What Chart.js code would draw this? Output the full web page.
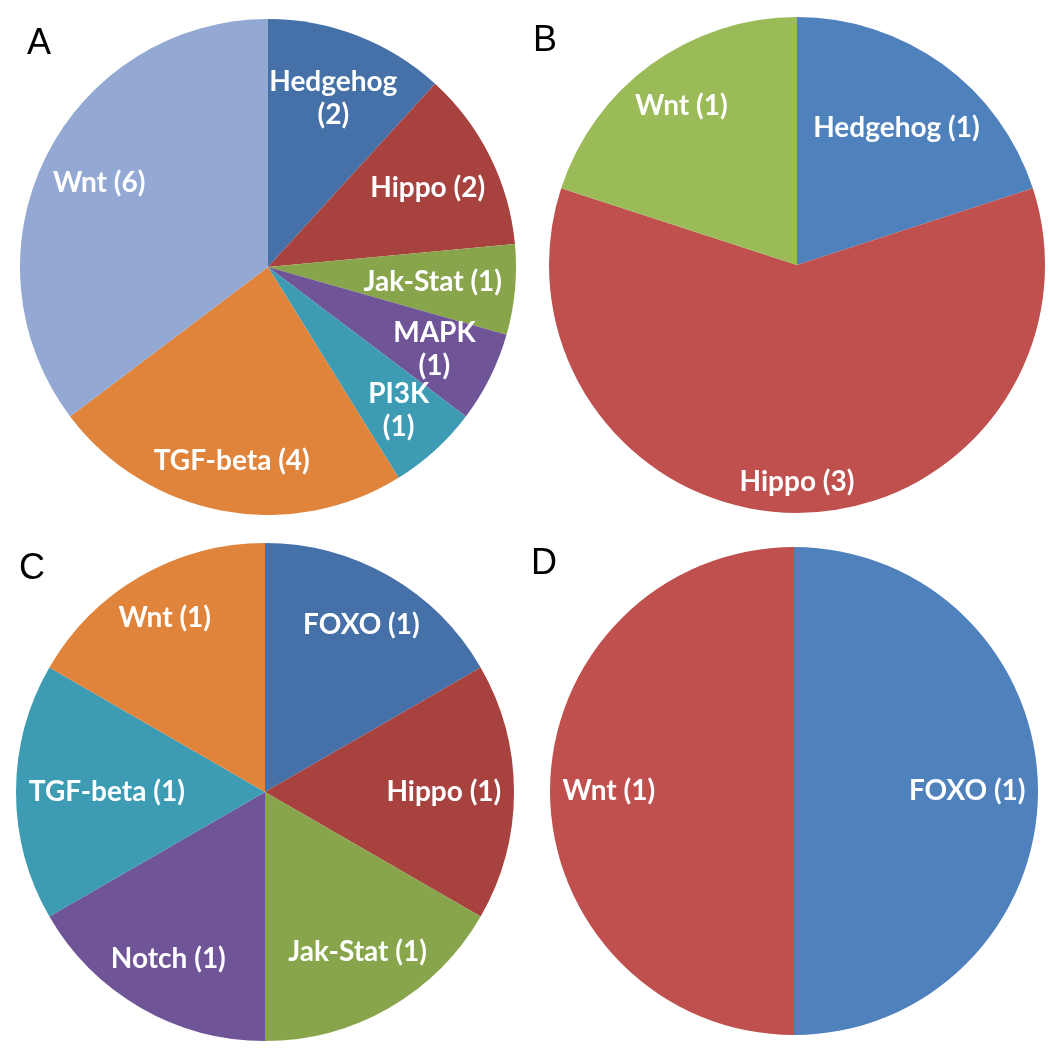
<!DOCTYPE html>
<html>
<head>
<meta charset="utf-8">
<script src="https://cdn.jsdelivr.net/npm/chart.js@4/dist/chart.umd.min.js"></script>
<style>
  html, body { margin: 0; padding: 0; background: #fff; }
  #page { position: relative; width: 1050px; height: 1050px; overflow: hidden; }
  .pie { position: absolute; }
  .letter {
    position: absolute;
    font-family: 'Liberation Sans', Arial, sans-serif;
    font-size: 36px;
    line-height: 36px;
    color: #000;
  }
</style>
</head>
<body>
<div id="page">
  <div class="pie" id="wrapA" style="left:20px;top:19px;width:496px;height:496px"><canvas id="pieA"></canvas></div>
  <div class="pie" id="wrapB" style="left:549px;top:17px;width:496px;height:496px"><canvas id="pieB"></canvas></div>
  <div class="pie" id="wrapC" style="left:16px;top:543px;width:498px;height:498px"><canvas id="pieC"></canvas></div>
  <div class="pie" id="wrapD" style="left:550px;top:547px;width:488px;height:488px"><canvas id="pieD"></canvas></div>
  <div class="letter" style="left:27px;top:24px">A</div>
  <div class="letter" style="left:533px;top:21px">B</div>
  <div class="letter" style="left:19px;top:549px">C</div>
  <div class="letter" style="left:531px;top:544px">D</div>
</div>
<script>
// panel A
const catsA = ['Hedgehog', 'Hippo', 'Jak-Stat', 'MAPK', 'PI3K', 'TGF-beta', 'Wnt']
const valsA = [2, 2, 1, 1, 1, 4, 6]
// these labels break onto two lines in panel A
const wrapA = ['Hedgehog', 'MAPK', 'PI3K']

// panel B
const catsB = ['Hedgehog', 'Hippo', 'Wnt']
const valsB = [1, 3, 1]

// panel C
const catsC = ['FOXO', 'Hippo', 'Jak-Stat', 'Notch', 'TGF-beta', 'Wnt']
const valsC = [1, 1, 1, 1, 1, 1]

// panel D
const catsD = ['FOXO', 'Wnt']
const valsD = [1, 1]

// office-style palettes (the darker one is used in A and C)
const darkPalette = ['#4571A8', '#A8423F', '#88A54C', '#6F5597', '#3D9BB4', '#E0843C', '#93A9D3']
const lightPalette = ['#4F81BD', '#C0504D', '#9BBB59']

const LABEL_FONT = 'bold 28px Lato, "Open Sans", sans-serif'
const LINE_H = 33
const FIT = 0.95

// puts each slice label on the mid angle, pushed out until its box touches FIT * radius
const sliceLabels = {
  id: 'sliceLabels',
  afterDatasetsDraw (chart, args, opts) {
    const ctx = chart.ctx
    const meta = chart.getDatasetMeta(0)
    const values = chart.data.datasets[0].data
    const wrap = opts.wrap || []

    ctx.save()
    ctx.font = LABEL_FONT
    ctx.fillStyle = '#fff'
    ctx.textAlign = 'center'
    ctx.textBaseline = 'middle'

    meta.data.forEach((arc, i) => {
      const { x, y, startAngle, endAngle, outerRadius } = arc.getProps(['x', 'y', 'startAngle', 'endAngle', 'outerRadius'], true)
      const name = chart.data.labels[i]
      const lines = wrap.includes(name)
        ? [name, `(${values[i]})`]
        : [`${name} (${values[i]})`]

      const hw = Math.max(...lines.map(l => ctx.measureText(l).width)) / 2
      const hh = ((lines.length - 1) * LINE_H + 24) / 2

      const mid = (startAngle + endAngle) / 2
      const ux = Math.cos(mid)
      const uy = Math.sin(mid)
      const kr = FIT * outerRadius
      const b = Math.abs(ux) * hw + Math.abs(uy) * hh
      const c = hw * hw + hh * hh - kr * kr
      const d = -b + Math.sqrt(b * b - c)

      const cx = x + ux * d
      const cy = y + uy * d
      lines.forEach((line, j) => {
        ctx.fillText(line, cx, cy - (lines.length - 1) * LINE_H / 2 + j * LINE_H)
      })
    })
    ctx.restore()
  }
}

function makePie (id, labels, data, colors, wrap) {
  return new Chart(document.getElementById(id), {
    type: 'pie',
    data: {
      labels,
      datasets: [{
        data,
        backgroundColor: colors,
        borderWidth: 0
      }]
    },
    options: {
      responsive: true,
      maintainAspectRatio: false,
      animation: false,
      layout: { padding: 0 },
      events: [],
      plugins: {
        legend: { display: false },
        tooltip: { enabled: false },
        sliceLabels: { wrap }
      }
    },
    plugins: [sliceLabels]
  })
}

makePie('pieA', catsA, valsA, darkPalette, wrapA)
makePie('pieB', catsB, valsB, lightPalette, [])
makePie('pieC', catsC, valsC, darkPalette.slice(0, 6), [])
makePie('pieD', catsD, valsD, lightPalette.slice(0, 2), [])
</script>
</body>
</html>
